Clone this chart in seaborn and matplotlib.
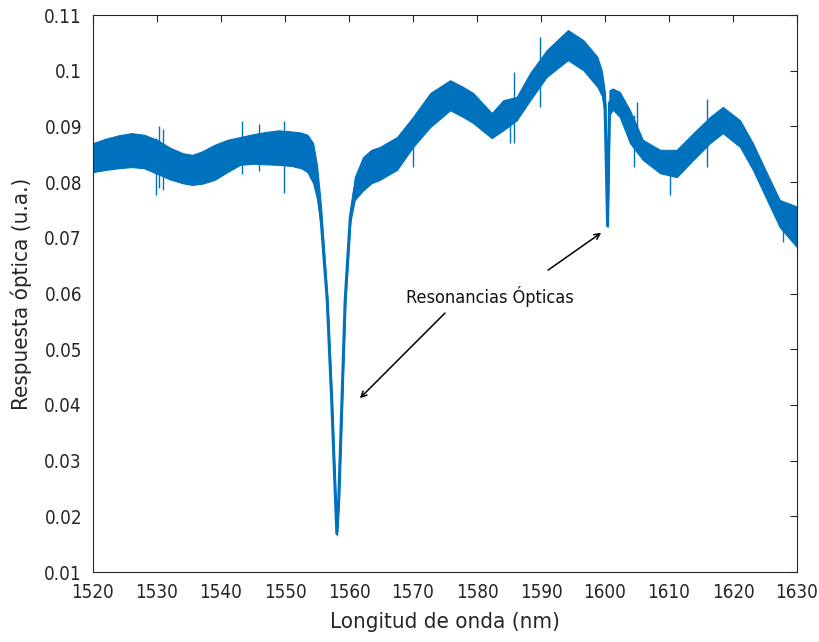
import numpy as np
import pandas as pd
import matplotlib
matplotlib.use("Agg")
import matplotlib.pyplot as plt
from matplotlib import font_manager
import seaborn as sns

# Wavelength samples (nm) with lower / upper edges of the noisy trace
wavelength = [1520.0, 1522.0, 1524.0, 1526.0, 1528.0, 1530.0, 1532.0, 1534.0, 1535.5,
              1537.0, 1539.0, 1541.0, 1543.0, 1545.0, 1547.0, 1549.0, 1551.0, 1552.5,
              1553.5, 1554.4, 1555.0, 1555.6, 1556.6, 1557.3, 1557.8, 1558.1, 1558.4,
              1558.9, 1559.4, 1560.2, 1560.9, 1562.2, 1563.5, 1564.8, 1567.5, 1570.0,
              1572.7, 1575.8, 1577.8, 1579.4, 1582.3, 1584.1, 1586.2, 1588.3, 1590.9,
              1594.2, 1596.6, 1598.8, 1599.5, 1600.0, 1600.4, 1600.7, 1601.2, 1602.3,
              1603.9, 1605.9, 1608.6, 1611.2, 1613.8, 1616.4, 1618.4, 1621.1, 1623.1,
              1625.3, 1627.3, 1630.0]
resp_low = [0.0818, 0.0822, 0.0825, 0.0827, 0.0825, 0.0815, 0.0805, 0.0798, 0.0795,
            0.0797, 0.0804, 0.0818, 0.0831, 0.0833, 0.0832, 0.0831, 0.0829, 0.0825,
            0.0818, 0.0798, 0.0770, 0.0720, 0.0580, 0.0400, 0.0250, 0.0166, 0.0225,
            0.0400, 0.0580, 0.0728, 0.0768, 0.0785, 0.0798, 0.0804, 0.0822, 0.0863,
            0.0899, 0.0929, 0.0917, 0.0906, 0.0879, 0.0893, 0.0911, 0.0947, 0.0989,
            0.1019, 0.1001, 0.0971, 0.0955, 0.0920, 0.0719, 0.0920, 0.0930, 0.0917,
            0.0870, 0.0840, 0.0816, 0.0809, 0.0840, 0.0870, 0.0888, 0.0863, 0.0822,
            0.0768, 0.0719, 0.0683]
resp_high = [0.0870, 0.0878, 0.0884, 0.0888, 0.0885, 0.0876, 0.0862, 0.0852, 0.0849,
             0.0855, 0.0867, 0.0876, 0.0881, 0.0886, 0.0890, 0.0893, 0.0891, 0.0889,
             0.0885, 0.0870, 0.0830, 0.0760, 0.0595, 0.0415, 0.0262, 0.0172, 0.0235,
             0.0415, 0.0595, 0.0745, 0.0809, 0.0845, 0.0858, 0.0863, 0.0881, 0.0917,
             0.0960, 0.0983, 0.0971, 0.0960, 0.0924, 0.0947, 0.0953, 0.0996, 0.1037,
             0.1073, 0.1055, 0.1025, 0.1000, 0.0960, 0.0725, 0.0965, 0.0968, 0.0962,
             0.0929, 0.0876, 0.0858, 0.0858, 0.0888, 0.0917, 0.0935, 0.0911, 0.0870,
             0.0816, 0.0768, 0.0756]

# Isolated noise spikes: position, bottom, top
spike_x = [1529.8, 1530.3, 1530.9, 1543.3, 1546.0, 1549.8, 1570.0, 1585.2, 1585.8,
           1589.8, 1604.5, 1605.0, 1610.2, 1616.0, 1627.8]
spike_lo = [0.0777, 0.0790, 0.0785, 0.0815, 0.0820, 0.0780, 0.0827, 0.0870, 0.0870,
            0.0935, 0.0827, 0.0860, 0.0777, 0.0827, 0.0693]
spike_hi = [0.0880, 0.0900, 0.0895, 0.0910, 0.0905, 0.0910, 0.0900, 0.0940, 0.0998,
            0.1060, 0.0920, 0.0944, 0.0840, 0.0949, 0.0740]

x_ticks = [1520, 1530, 1540, 1550, 1560, 1570, 1580, 1590, 1600, 1610, 1620, 1630]
y_ticks = [0.01, 0.02, 0.03, 0.04, 0.05, 0.06, 0.07, 0.08, 0.09, 0.1, 0.11]
y_tick_labels = ["0.01", "0.02", "0.03", "0.04", "0.05", "0.06", "0.07", "0.08",
                 "0.09", "0.1", "0.11"]

sns.set_theme(style="white")

# Prefer a condensed sans face when one is installed
family, stretch = "Lato", "normal"
for f in font_manager.fontManager.ttflist:
    if f.name in ("Open Sans", "Noto Sans", "DejaVu Sans", "Roboto",
                  "Liberation Sans Narrow", "Open Sans Condensed",
                  "Roboto Condensed") and (
            f.stretch in ("condensed", "semi-condensed", 600, 700, 500)
            or "Narrow" in f.name or "Condensed" in f.name):
        family, stretch = f.name, f.stretch
        break
plt.rcParams["font.family"] = [family, "DejaVu Sans"]
plt.rcParams["font.stretch"] = stretch

BLUE = "#0072BD"
AXC = "#262626"

df = pd.DataFrame({
    "wavelength": wavelength + wavelength,
    "resp": resp_low + resp_high,
})

fig = plt.figure(figsize=(8.2, 6.42), dpi=100)
ax = fig.add_axes([0.1134, 0.109, 0.8586, 0.8676])

# Envelope between the lower and upper edges, drawn as a min-max band
sns.lineplot(data=df, x="wavelength", y="resp", estimator="mean",
             errorbar=("pi", 100), color=BLUE, linewidth=2.2,
             err_kws={"alpha": 1.0, "linewidth": 0.8, "edgecolor": BLUE}, ax=ax)
ax.vlines(spike_x, spike_lo, spike_hi, color=BLUE, linewidth=1.0)

ax.set_xlim(1520, 1630)
ax.set_ylim(0.01, 0.11)
ax.set_xticks(x_ticks)
ax.set_xticklabels([str(t) for t in x_ticks])
ax.set_yticks(y_ticks)
ax.set_yticklabels(y_tick_labels)
ax.tick_params(direction="in", length=5, width=0.8, colors=AXC, labelsize=13.5,
               top=True, right=True, labelcolor=AXC, pad=8)
for s in ax.spines.values():
    s.set_color(AXC)
    s.set_linewidth(0.8)
    s.set_visible(True)

ax.set_xlabel("Longitud de onda (nm)", fontsize=16, color=AXC, labelpad=7)
ax.set_ylabel("Respuesta óptica (u.a.)", fontsize=16, color=AXC, labelpad=9)

# Labels pointing to the two resonance dips
ax.text(1582.0, 0.0595, "Resonancias Ópticas", fontsize=13, color="#111111",
        ha="center", va="center")
arrow = dict(arrowstyle="->", color="black", lw=1.1, shrinkA=0, shrinkB=0,
             mutation_scale=10)
ax.annotate("", xy=(1561.7, 0.0412), xytext=(1575.0, 0.0565), arrowprops=arrow)
ax.annotate("", xy=(1599.4, 0.0709), xytext=(1591.1, 0.0642), arrowprops=arrow)

fig.savefig("out.png", dpi=100)
